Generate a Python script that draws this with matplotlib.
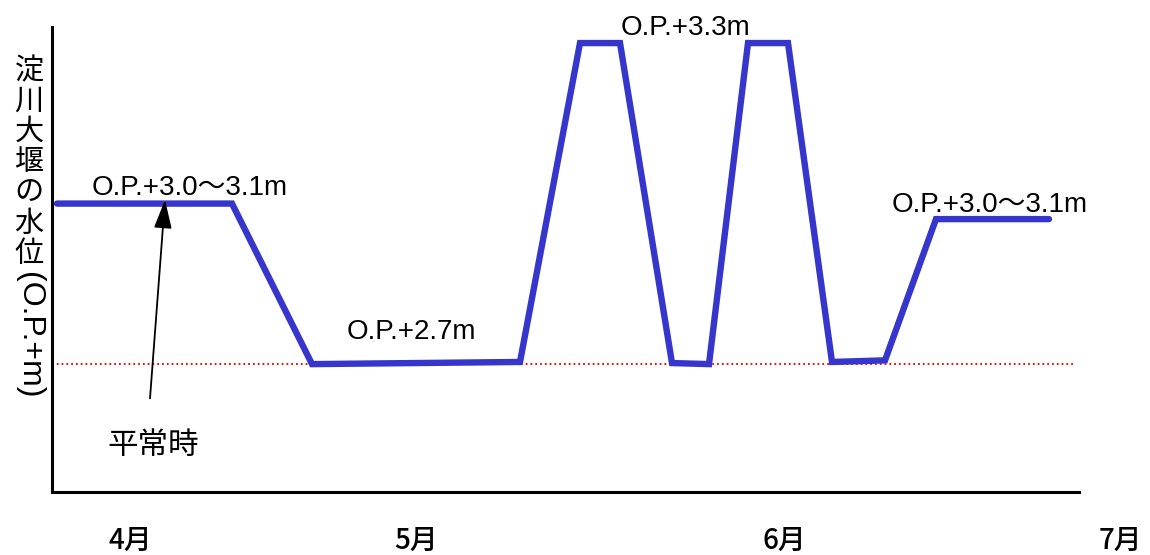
#!/usr/bin/env python3
"""淀川大堰の水位（O.P.+m）の運用イメージ."""

import matplotlib

matplotlib.use("Agg")
import matplotlib.pyplot as plt

# 横軸は月の目安位置（任意単位）、縦軸は水位 O.P.+m
level_x = [5, 180, 260, 468, 528, 568, 620, 657, 696, 736, 780, 833, 884, 997]
level_y = [3.00, 3.00, 2.70, 2.704, 3.30, 3.30, 2.702, 2.70, 3.30, 3.30,
           2.704, 2.707, 2.971, 2.971]
normal_level = 2.70
normal_end = 1023

month_labels = ["4月", "5月", "6月", "7月"]
month_px = [130, 416, 784, 1120]

level_notes = ["O.P.+3.0～3.1m", "O.P.+2.7m", "O.P.+3.3m", "O.P.+3.0～3.1m"]
note_x = [138, 359, 634, 938]
note_y = [3.030, 2.760, 3.328, 2.997]

ylabel_chars = ["淀", "川", "大", "堰", "の", "水", "位"]

W, H = 1150, 555
LATIN = ["Liberation Sans", "Noto Sans CJK JP"]
CJK = ["Noto Sans CJK JP", "DejaVu Sans"]

fig = plt.figure(figsize=(W / 100, H / 100), dpi=100)
ax = fig.add_axes([52 / W, 1 - 492 / H, (1079 - 52) / W, (492 - 27) / H])

ax.plot(level_x, level_y, color="#3636CC", linewidth=4.6,
        solid_joinstyle="miter", solid_capstyle="round", zorder=3)
ax.hlines(normal_level, 0, normal_end, colors="#E00000", linestyles=":",
          linewidth=1.3, zorder=2)

for txt, x, y in zip(level_notes, note_x, note_y):
    ax.text(x, y, txt, ha="center", va="center", fontsize=20, family=LATIN,
            color="black")

ax.annotate("", xy=(113, 3.007), xytext=(98, 2.636),
            arrowprops=dict(arrowstyle="-|>,head_length=0.8,head_width=0.25",
                            color="black", lw=1.3,
                            mutation_scale=22, shrinkA=0, shrinkB=0))

ax.set_xlim(0, 1027)
ax.set_ylim(2.461, 3.330)
ax.set_xticks([])
ax.set_yticks([])
for side in ("top", "right"):
    ax.spines[side].set_visible(False)
for side in ("left", "bottom"):
    ax.spines[side].set_linewidth(2.2)


def fig_px(x, y):
    return x / W, 1 - y / H


fig.text(*fig_px(153, 445), "平常時", ha="center", va="center",
         fontsize=22, family=CJK)

for lab, x in zip(month_labels, month_px):
    fig.text(*fig_px(x, 540), lab, ha="center", va="center",
             fontsize=20, family=CJK, fontweight="medium")

for i, ch in enumerate(ylabel_chars):
    fig.text(*fig_px(29, 71 + i * 30.5), ch, ha="center", va="center",
             fontsize=21, family=CJK)
fig.text(*fig_px(29, 335), "(O.P.+m)", ha="center", va="center",
         rotation=-90, fontsize=23, family=LATIN)

fig.savefig("out.png", dpi=100)
